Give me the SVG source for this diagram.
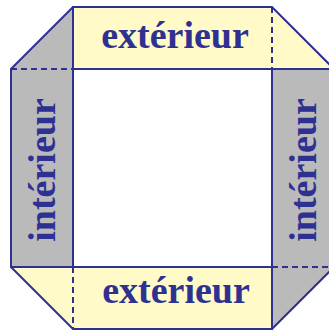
<svg xmlns="http://www.w3.org/2000/svg" width="329" height="331" viewBox="0 0 329 331">
<style>
.yel{fill:#fffac8;stroke:none}
.gry{fill:#bababa;stroke:none}
.ln{stroke:#2e3192;stroke-width:2;fill:none;stroke-linecap:square}
.ds{stroke:#2e3192;stroke-width:2;fill:none;stroke-dasharray:6,4}
.lbl{font-family:"Liberation Serif",serif;font-weight:bold;font-size:38px;fill:#2e3192;text-anchor:middle}
</style>
<rect width="329" height="331" fill="#ffffff"/>
<g id="left-interieur">
<polygon class="gry" points="11,69 73,7 73,267 11,267"/>
<text class="lbl" transform="translate(55,170) rotate(-90)">intérieur</text>
</g>
<g id="top-exterieur">
<polygon class="yel" points="73,7 272,7 334,69 73,69"/>
<text class="lbl" x="175" y="48">extérieur</text>
</g>
<g id="right-interieur">
<polygon class="gry" points="272,69 334,69 334,267 272,329"/>
<text class="lbl" transform="translate(316,170) rotate(-90)">intérieur</text>
</g>
<g id="bottom-exterieur">
<polygon class="yel" points="11,267 272,267 272,329 73,329"/>
<text class="lbl" x="176" y="303">extérieur</text>
</g>
<g id="connectors">
<polygon class="ln" points="73,7 272,7 334,69 334,267 272,329 73,329 11,267 11,69"/>
<line class="ln" x1="73" y1="7" x2="73" y2="267"/>
<line class="ln" x1="73" y1="69" x2="334" y2="69"/>
<line class="ln" x1="272" y1="69" x2="272" y2="329"/>
<line class="ln" x1="11" y1="267" x2="272" y2="267"/>
<line class="ds" x1="11" y1="69" x2="73" y2="69"/>
<line class="ds" x1="272" y1="7" x2="272" y2="69"/>
<line class="ds" x1="272" y1="267" x2="334" y2="267"/>
<line class="ds" x1="73" y1="267" x2="73" y2="329"/>
</g>
</svg>
